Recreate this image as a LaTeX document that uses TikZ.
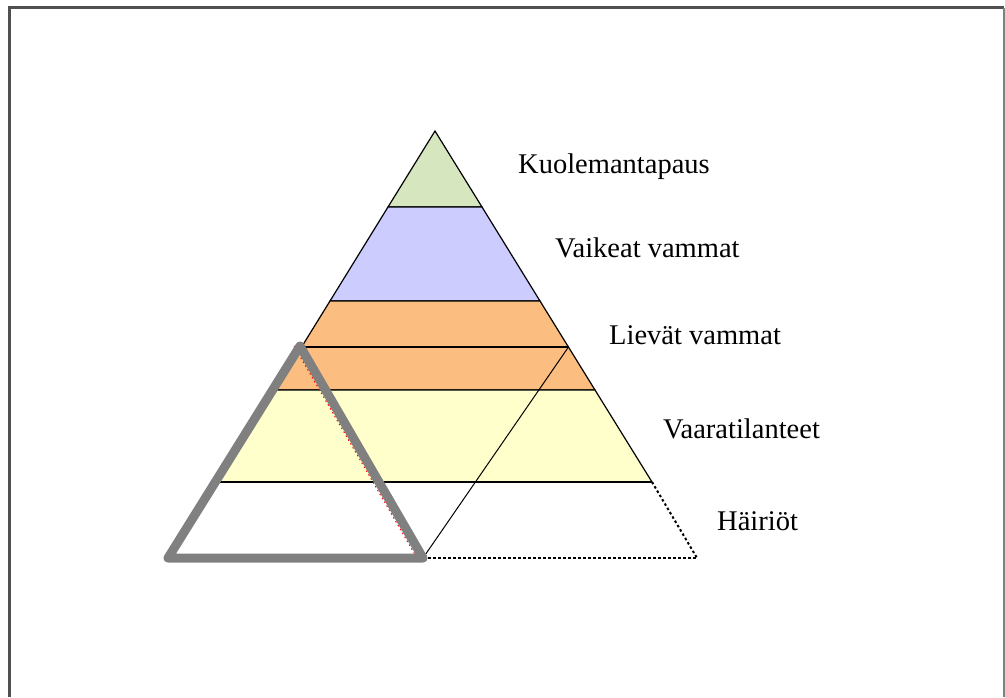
\documentclass[tikz,border=0pt]{standalone}
\usepackage{fontspec}
\setmainfont{Liberation Serif}
\definecolor{levelgreen}{RGB}{214,230,190}
\definecolor{levelblue}{RGB}{204,204,255}
\definecolor{levelorange}{RGB}{252,190,128}
\definecolor{levelyellow}{RGB}{255,255,204}
\definecolor{framegray}{RGB}{80,80,80}
\definecolor{markgray}{RGB}{128,128,128}
\tikzset{
  band/.style={draw=black, line width=1.2pt, line join=miter},
  thinline/.style={draw=black, line width=1pt},
  dotline/.style={draw=black, line width=2pt, dash pattern=on 2.5pt off 2.5pt},
  marktri/.style={draw=markgray, line width=9pt, line join=round},
  redtrace/.style={draw=red, line width=1pt, dash pattern=on 1.5pt off 3pt},
  level/.style={font=\fontsize{28.5pt}{30pt}\selectfont, anchor=base west, inner sep=0pt}
}
\begin{document}
\begin{tikzpicture}[x=1pt,y=-1pt]
\useasboundingbox (0,0) rectangle (1005,697);
\fill[white] (0,0) rectangle (1005,697);
% outer frame (open at the bottom)
\draw[framegray, line width=2.5pt] (9.5,697) -- (9.5,7.5) -- (1003.5,7.5);
\draw[markgray, line width=2pt] (1003.5,7.5) -- (1003.5,697);

% pyramid corners: apex and the left/right ends of each level line
\coordinate (apex) at (435,131);
\coordinate (l1) at (388,207);   \coordinate (r1) at (482,207);
\coordinate (l2) at (330,301);   \coordinate (r2) at (540,301);
\coordinate (l3) at (301.5,347); \coordinate (r3) at (568.5,347);
\coordinate (l4) at (275,390);   \coordinate (r4) at (595,390);
\coordinate (l5) at (218,482);   \coordinate (r5) at (652,482);
\coordinate (r6) at (697,558);

% level bands
\filldraw[band, fill=levelgreen]  (apex) -- (r1) -- (l1) -- cycle;
\filldraw[band, fill=levelblue]   (l1) -- (r1) -- (r2) -- (l2) -- cycle;
\filldraw[band, fill=levelorange] (l2) -- (r2) -- (r4) -- (l4) -- cycle;
\filldraw[band, fill=levelyellow] (l4) -- (r4) -- (r5) -- (l5) -- cycle;
\draw[band] (l3) -- (r3);
\draw[band] (l5) -- (r5);

% marked triangle and its shifted copy
\coordinate (ga) at (300,346);
\coordinate (gl) at (168,558);
\coordinate (gr) at (423,558);
\draw[thinline] (gr) -- (r3);
\draw[dotline] (gr) -- (r6);
\draw[dotline] (r5) -- (r6);
\draw[redtrace] ([xshift=-6pt]ga) -- ([xshift=-6pt]gr);
\draw[marktri] (ga) -- (gl) -- (gr) -- cycle;

% level labels
\node[level] (t1) at (518,173) {Kuolemantapaus};
\node[level] (t2) at (555,257) {Vaikeat vammat};
\node[level] (t3) at (609,344) {Lievät vammat};
\node[level] (t4) at (663,438) {Vaaratilanteet};
\node[level] (t5) at (717,530) {Häiriöt};
\end{tikzpicture}
\end{document}
